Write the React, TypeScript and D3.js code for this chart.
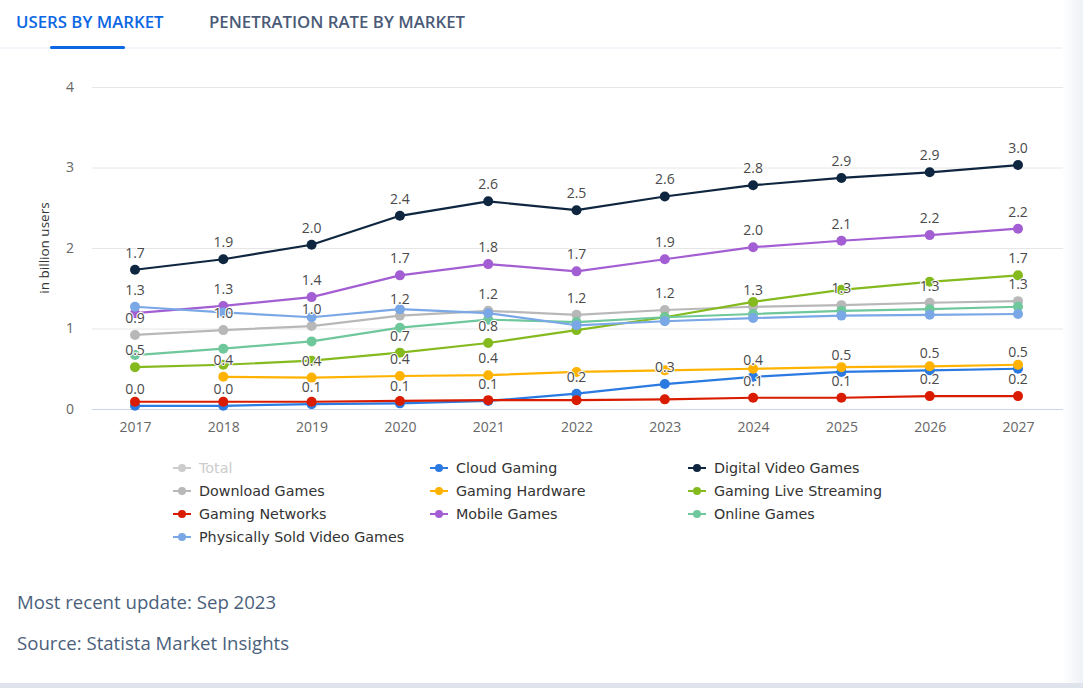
import { useEffect, useRef } from 'react';
import * as d3 from 'd3';

const YEARS = [2017, 2018, 2019, 2020, 2021, 2022, 2023, 2024, 2025, 2026, 2027];
const Y_TICKS = [0, 1, 2, 3, 4];

// values in billion users (null = no data)
const CLOUD_GAMING = [0.04, 0.04, 0.06, 0.07, 0.1, 0.19, 0.31, 0.4, 0.46, 0.48, 0.5];
const DIGITAL_VIDEO_GAMES = [1.73, 1.86, 2.04, 2.4, 2.58, 2.47, 2.64, 2.78, 2.87, 2.94, 3.03];
const DOWNLOAD_GAMES = [0.92, 0.98, 1.03, 1.16, 1.22, 1.17, 1.23, 1.27, 1.29, 1.32, 1.34];
const GAMING_HARDWARE = [null, 0.4, 0.39, 0.41, 0.42, 0.46, 0.48, 0.5, 0.52, 0.53, 0.55];
const GAMING_LIVE_STREAMING = [0.52, 0.55, 0.6, 0.7, 0.82, 0.98, 1.14, 1.33, 1.48, 1.58, 1.66];
const GAMING_NETWORKS = [0.09, 0.09, 0.09, 0.1, 0.11, 0.11, 0.12, 0.14, 0.14, 0.16, 0.16];
const MOBILE_GAMES = [1.19, 1.28, 1.39, 1.66, 1.8, 1.71, 1.86, 2.01, 2.09, 2.16, 2.24];
const ONLINE_GAMES = [0.67, 0.75, 0.84, 1.01, 1.11, 1.08, 1.14, 1.18, 1.22, 1.24, 1.27];
const PHYSICALLY_SOLD = [1.27, 1.2, 1.14, 1.24, 1.19, 1.04, 1.09, 1.13, 1.16, 1.17, 1.18];

// years whose data label stays visible (the rest are hidden by overlap)
const CLOUD_LABELS = YEARS;
const DIGITAL_LABELS = YEARS;
const DOWNLOAD_LABELS = YEARS;
const HARDWARE_LABELS = [2018, 2019, 2020, 2021];
const STREAMING_LABELS = [2017, 2020, 2021, 2027];
const NETWORKS_LABELS = [2024, 2025, 2026, 2027];
const MOBILE_LABELS = [2018, 2019, 2020, 2021, 2022, 2023, 2024, 2025, 2026, 2027];
const ONLINE_LABELS: number[] = [];
const PHYSICAL_LABELS = [2017];

type Series = { name: string; color: string; values: (number | null)[]; labels: number[]; hidden?: boolean };

const SERIES: Series[] = [
  { name: 'Total', color: '#cccccc', values: [], labels: [], hidden: true },
  { name: 'Cloud Gaming', color: '#2a7ae2', values: CLOUD_GAMING, labels: CLOUD_LABELS },
  { name: 'Digital Video Games', color: '#0f2640', values: DIGITAL_VIDEO_GAMES, labels: DIGITAL_LABELS },
  { name: 'Download Games', color: '#b8b8b8', values: DOWNLOAD_GAMES, labels: DOWNLOAD_LABELS },
  { name: 'Gaming Hardware', color: '#ffb300', values: GAMING_HARDWARE, labels: HARDWARE_LABELS },
  { name: 'Gaming Live Streaming', color: '#84ba1e', values: GAMING_LIVE_STREAMING, labels: STREAMING_LABELS },
  { name: 'Gaming Networks', color: '#d91c00', values: GAMING_NETWORKS, labels: NETWORKS_LABELS },
  { name: 'Mobile Games', color: '#a35ed3', values: MOBILE_GAMES, labels: MOBILE_LABELS },
  { name: 'Online Games', color: '#6fc79c', values: ONLINE_GAMES, labels: ONLINE_LABELS },
  { name: 'Physically Sold Video Games', color: '#7aa7e6', values: PHYSICALLY_SOLD, labels: PHYSICAL_LABELS },
];

const W = 1083;
const H = 688;
const OPEN = '"Open Sans", "Noto Sans", sans-serif';

export default function App() {
  const svgRef = useRef<SVGSVGElement>(null);

  useEffect(() => {
    if (!svgRef.current) return;
    const svg = d3.select(svgRef.current);
    svg.selectAll('*').remove();

    const x = d3.scalePoint<number>().domain(YEARS).range([135, 1018]);
    const y = d3.scaleLinear().domain([0, 4]).range([409, 87]);

    // right edge fade + bottom border
    const defs = svg.append('defs');
    const grad = defs.append('linearGradient').attr('id', 'fade').attr('x1', '0').attr('x2', '1');
    grad.append('stop').attr('offset', '0').attr('stop-color', '#ffffff');
    grad.append('stop').attr('offset', '1').attr('stop-color', '#eef1f6');
    svg.append('rect').attr('x', 1062).attr('y', 0).attr('width', 21).attr('height', H).attr('fill', 'url(#fade)');
    svg.append('rect').attr('x', 0).attr('y', 683).attr('width', W).attr('height', 5).attr('fill', '#dfe4ec');

    // tabs
    svg.append('rect').attr('x', 0).attr('y', 47).attr('width', 1062).attr('height', 2).attr('fill', '#f1f4f8');
    svg.append('text').attr('x', 16).attr('y', 28).text('USERS BY MARKET')
      .style('font-family', OPEN).style('font-size', '16.8px').style('font-weight', 600).style('fill', '#0b67e3');
    svg.append('text').attr('x', 209).attr('y', 28).text('PENETRATION RATE BY MARKET')
      .style('font-family', OPEN).style('font-size', '16.8px').style('font-weight', 600).style('fill', '#4b5b77');
    svg.append('rect').attr('x', 50).attr('y', 46).attr('width', 75).attr('height', 3).attr('rx', 1.5).attr('fill', '#0b67e3');

    // grid
    const yGrid = d3.axisLeft(y).tickValues(Y_TICKS.slice(1)).tickSize(-(1063 - 92)).tickFormat(() => '');
    svg.append('g').attr('transform', 'translate(92,0)').call(yGrid)
      .call(g => g.select('.domain').remove())
      .selectAll('line').style('stroke', '#e6e6e6');
    svg.append('line').attr('x1', 92).attr('x2', 1063).attr('y1', y(0) + 0.5).attr('y2', y(0) + 0.5)
      .style('stroke', '#ccd6eb');

    // axes labels
    const yAxis = d3.axisLeft(y).tickValues(Y_TICKS).tickSize(0).tickPadding(0).tickFormat(d3.format('d'));
    svg.append('g').attr('transform', 'translate(74,0)').call(yAxis)
      .call(g => g.select('.domain').remove())
      .selectAll('text').style('fill', '#666').style('font-size', '14px').style('font-family', OPEN);

    const xAxis = d3.axisBottom(x).tickSize(0).tickPadding(0).tickFormat(d => String(d));
    svg.append('g').attr('transform', `translate(0,${y(0) + 13})`).call(xAxis)
      .call(g => g.select('.domain').remove())
      .selectAll('text').style('fill', '#666').style('font-size', '14px').style('font-family', OPEN);

    svg.append('text').attr('transform', 'translate(49,248) rotate(-90)').attr('text-anchor', 'middle')
      .text('in billion users')
      .style('font-family', OPEN).style('font-size', '13.5px').style('fill', '#333');

    // series
    const line = d3.line<number | null>()
      .defined(d => d !== null)
      .x((_, i) => x(YEARS[i]) as number)
      .y(d => y(d as number));

    const visible = SERIES.filter(s => !s.hidden);
    for (const s of visible) {
      const g = svg.append('g');
      g.append('path').datum(s.values).attr('d', line)
        .style('fill', 'none').style('stroke', s.color).style('stroke-width', 2.2)
        .style('stroke-linejoin', 'round');
      s.values.forEach((v, i) => {
        if (v === null) return;
        g.append('circle').attr('cx', x(YEARS[i]) as number).attr('cy', y(v)).attr('r', 5).style('fill', s.color);
      });
    }

    // data labels
    const lg = svg.append('g');
    for (const s of visible) {
      s.values.forEach((v, i) => {
        if (v === null || !s.labels.includes(YEARS[i])) return;
        lg.append('text').attr('x', x(YEARS[i]) as number).attr('y', y(v) - 12)
          .attr('text-anchor', 'middle').text(v.toFixed(1))
          .style('font-family', OPEN).style('font-size', '14px').style('fill', '#4a4a4a')
          .style('stroke', '#fff').style('stroke-width', 2).style('paint-order', 'stroke')
          .style('stroke-linejoin', 'round');
      });
    }

    // legend
    const colX = [173, 430, 688];
    const legend = svg.append('g');
    SERIES.forEach((s, i) => {
      const cx = colX[i % 3];
      const cy = 468 + Math.floor(i / 3) * 23;
      const c = s.hidden ? '#cccccc' : s.color;
      legend.append('line').attr('x1', cx).attr('x2', cx + 18).attr('y1', cy).attr('y2', cy)
        .style('stroke', c).style('stroke-width', 2);
      legend.append('circle').attr('cx', cx + 9).attr('cy', cy).attr('r', 4).style('fill', c);
      legend.append('text').attr('x', cx + 26).attr('y', cy + 5).text(s.name)
        .style('font-family', '"DejaVu Sans", sans-serif').style('font-size', '14.3px')
        .style('fill', s.hidden ? '#cccccc' : '#333333');
    });

    // footer
    svg.append('text').attr('x', 17).attr('y', 609).text('Most recent update: Sep 2023')
      .style('font-family', OPEN).style('font-size', '18.6px').style('fill', '#4b5f7c');
    svg.append('text').attr('x', 17).attr('y', 650).text('Source: Statista Market Insights')
      .style('font-family', OPEN).style('font-size', '18.6px').style('fill', '#4b5f7c');
  }, []);

  return (
    <svg ref={svgRef} width={W} height={H}
      style={{ position: 'absolute', left: 0, top: 0, background: '#fff' }} />
  );
}
